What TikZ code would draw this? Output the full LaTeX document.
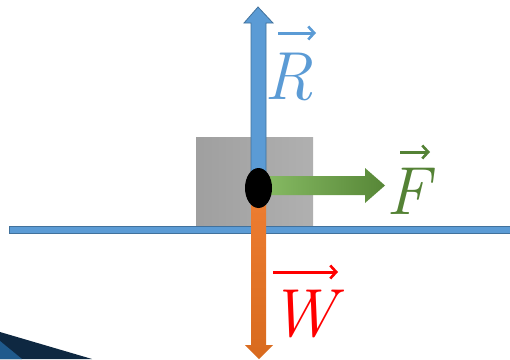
\documentclass[tikz,border=0pt]{standalone}
\usepackage{fontspec}
\usetikzlibrary{shapes.geometric,arrows.meta}
\begin{document}
\begin{tikzpicture}[x=1pt,y=-1pt,
  lbl/.style={inner sep=0pt,font=\fontsize{68}{72}\selectfont\itshape},
  vecarrow/.style={line width=3pt,-{Straight Barb[length=6pt,width=13pt,line width=2.6pt]}},
]
\definecolor{rblue}{HTML}{5B9BD5}
\definecolor{rblueD}{HTML}{41719C}
\definecolor{rgreen}{HTML}{70AD47}
\definecolor{rgreenD}{HTML}{548235}
\definecolor{rorange}{HTML}{ED7D31}
\definecolor{rorangeD}{HTML}{D86A1E}
\definecolor{navy}{HTML}{0E2841}
\definecolor{midblue}{HTML}{1F5A8C}
\useasboundingbox (0,0) rectangle (510,359);
% corner decoration
\fill[navy] (0,332) -- (92,359) -- (0,359) -- cycle;
\fill[midblue] (0,341) -- (22,359) -- (0,359) -- cycle;
% box
\shade[left color=gray!75,right color=gray!62] (196,137) rectangle (313,227);
% ground
\draw[rblueD,fill=rblue,line width=0.9pt] (9,226) rectangle (512,233);
% up arrow R
\draw[rblueD,line width=0.8pt,fill=rblue] (251,188) -- (251,23) -- (244,23) -- (258,7) -- (273,23) -- (266,23) -- (266,188) -- cycle;
% down arrow W
\shade[top color=rorange,bottom color=rorangeD] (251,200) -- (251,345) -- (245,345) -- (259,359) -- (273,345) -- (266,345) -- (266,200) -- cycle;
% right arrow F
\shade[left color=rgreen!85!white,right color=rgreenD!90!rgreen] (268,176) -- (365,176) -- (365,168) -- (385,185.5) -- (365,203) -- (365,195) -- (268,195) -- cycle;
% point
\node[ellipse,fill=black,minimum width=27pt,minimum height=40pt,inner sep=0pt] (p) at (258.5,188) {};
% labels
\node[lbl,text=rblue] (R) at (289,77) {R};
\node[lbl,text=rgreenD] (F) at (408,191) {F};
\node[lbl,text=red] (W) at (303,314) {W};
% vector arrows
\coordinate (ra) at (278,33); \coordinate (rb) at (316,33);
\draw[vecarrow,rblue] (ra) -- (rb);
\coordinate (fa) at (400,152); \coordinate (fb) at (430,152);
\draw[vecarrow,rgreenD] (fa) -- (fb);
\coordinate (wa) at (273,272); \coordinate (wb) at (338,272);
\draw[vecarrow,red] (wa) -- (wb);
\end{tikzpicture}
\end{document}
